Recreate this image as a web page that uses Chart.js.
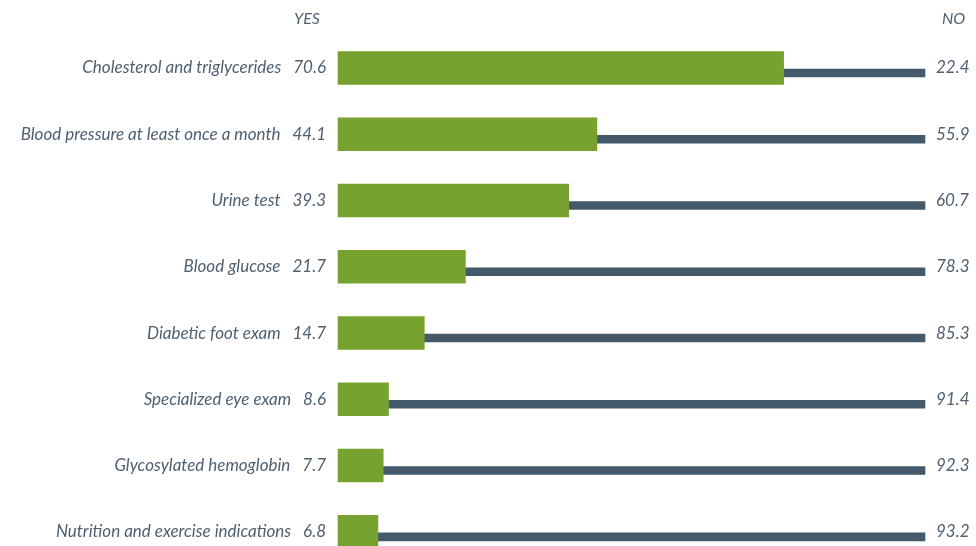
<!DOCTYPE html>
<html>
<head>
<meta charset="utf-8">
<script src="https://cdn.jsdelivr.net/npm/chart.js@4"></script>
<style>
  html, body { margin: 0; padding: 0; background: #fff; }
  #wrap { width: 976px; height: 546px; }
</style>
</head>
<body>
<div id="wrap"><canvas id="chart"></canvas></div>
<script>
const categories = [
    "Cholesterol and triglycerides",
    "Blood pressure at least once a month",
    "Urine test",
    "Blood glucose",
    "Diabetic foot exam",
    "Specialized eye exam",
    "Glycosylated hemoglobin",
    "Nutrition and exercise indications"
];
const yesValues = [70.6, 44.1, 39.3, 21.7, 14.7, 8.6, 7.7, 6.8];
const noValues = [22.4, 55.9, 60.7, 78.3, 85.3, 91.4, 92.3, 93.2];
const headers = ["YES", "NO"];

const textColor = "#4f6070";
const font = { family: "Lato", style: "italic", size: 17 };

// each row fills the whole width, split by its own yes/no total
const yesShare = yesValues.map((v, i) => v / (v + noValues[i]) * 100);
const noSpan = yesShare.map(s => [s, 100]);

const fmt = v => v.toFixed(1);

// thin "NO" bar sits a few px lower than the centre of the row
const shiftNo = {
    id: "shiftNo",
    beforeDatasetDraw(chart, args) {
        if (args.index === 1) {
            chart.ctx.save();
            chart.ctx.translate(0, 5);
        }
    },
    afterDatasetDraw(chart, args) {
        if (args.index === 1) chart.ctx.restore();
    }
};

const headerText = {
    id: "headerText",
    afterDraw(chart) {
        const ctx = chart.ctx;
        ctx.save();
        ctx.font = "italic 16px Lato";
        ctx.fillStyle = textColor;
        ctx.textBaseline = "middle";
        ctx.textAlign = "right";
        ctx.fillText(headers[0], chart.scales.y.right - 18, 19);
        ctx.textAlign = "left";
        ctx.fillText(headers[1], chart.scales.y2.left + 17, 19);
        ctx.restore();
    }
};

new Chart(document.getElementById("chart"), {
    type: "bar",
    data: {
        labels: categories,
        datasets: [
            {
                label: "YES",
                data: yesShare,
                backgroundColor: "#78a22f",
                barThickness: 33,
                grouped: false,
                clip: false
            },
            {
                label: "NO",
                data: noSpan,
                backgroundColor: "#44596a",
                barThickness: 8,
                grouped: false,
                clip: false
            }
        ]
    },
    options: {
        indexAxis: "y",
        responsive: true,
        maintainAspectRatio: false,
        animation: false,
        layout: { padding: { top: 68, bottom: -4, left: 0, right: 0 } },
        plugins: {
            legend: { display: false },
            tooltip: { enabled: false }
        },
        scales: {
            x: {
                display: false,
                min: 0,
                max: 100
            },
            y: {
                position: "left",
                offset: false,
                grid: { display: false },
                border: { display: false },
                ticks: {
                    padding: 4,
                    color: textColor,
                    font: font,
                    autoSkip: false,
                    callback: (v, i) => categories[i] + "   " + fmt(yesValues[i])
                },
                afterFit: s => { s.width = 338; }
            },
            y2: {
                position: "right",
                type: "category",
                labels: categories,
                offset: false,
                grid: { display: false },
                border: { display: false },
                ticks: {
                    padding: 3,
                    color: textColor,
                    font: font,
                    autoSkip: false,
                    callback: (v, i) => fmt(noValues[i])
                },
                afterFit: s => { s.width = 51; }
            }
        }
    },
    plugins: [shiftNo, headerText]
});
</script>
</body>
</html>
